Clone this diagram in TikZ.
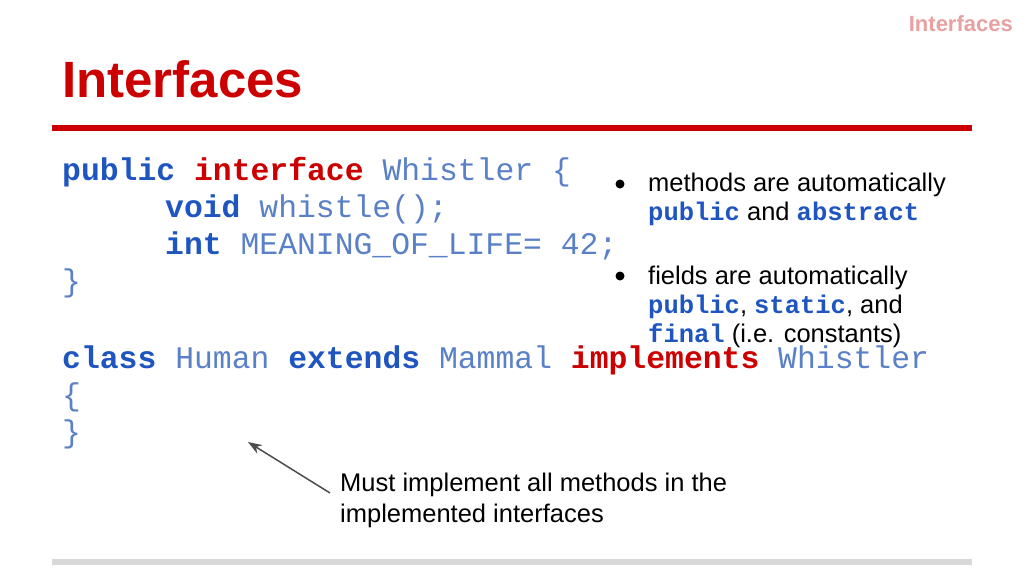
\documentclass[tikz,border=0pt]{standalone}
\usepackage{fontspec}
\usetikzlibrary{arrows.meta}
\setmainfont{Liberation Sans}
\setmonofont{Liberation Mono}
\definecolor{kw}{HTML}{1F55C0}
\definecolor{idn}{HTML}{5A80C8}
\definecolor{rd}{HTML}{CC0000}
\definecolor{hdr}{HTML}{E8A0A0}
\definecolor{gl}{HTML}{D8D8D8}
\newcommand{\K}[1]{\textbf{\color{kw}#1}}
\newcommand{\R}[1]{\textbf{\color{rd}#1}}
\newcommand{\I}[1]{{\color{idn}#1}}
\begin{document}
\begin{tikzpicture}[x=1pt,y=-1pt,
  code/.style={anchor=base west,inner sep=0pt,font=\fontsize{31.4}{31.4}\ttfamily},
  txt/.style={anchor=base west,inner sep=0pt,font=\fontsize{25.5}{25.5}\selectfont}]
\useasboundingbox (0,0) rectangle (1024,576);
\fill[white] (0,0) rectangle (1024,576);
\node[anchor=base east,inner sep=0pt,font=\fontsize{22}{22}\bfseries\selectfont,text=hdr] (hd) at (1013,31) {Interfaces};
\node[anchor=base west,inner sep=0pt,font=\fontsize{51}{51}\bfseries\selectfont,text=rd] (ti) at (62,97) {Interfaces};
\draw[rd,line width=6] (52,128) -- (972,128);
\draw[gl,line width=6] (52,562) -- (972,562);
\node[code] (c1) at (62,180) {\K{public} \R{interface} \I{Whistler \{}};
\node[code] (c2) at (165,217) {\K{void} \I{whistle();}};
\node[code] (c3) at (165,254) {\K{int} \I{MEANING\_OF\_LIFE= 42;}};
\node[code] (c4) at (62,291) {\I{\}}};
\node[code] (c5) at (62,368) {\K{class} \I{Human} \K{extends} \I{Mammal} \R{implements} \I{Whistler}};
\node[code] (c6) at (62,405) {\I{\{}};
\node[code] (c7) at (62,442) {\I{\}}};
\fill (620,184) circle (4.5);
\fill (620,276) circle (4.5);
\node[txt] (b1) at (648,191) {methods are automatically};
\node[txt] (b2) at (648,220) {{\ttfamily\K{public}} and {\ttfamily\K{abstract}}};
\node[txt] (b3) at (648,284) {fields are automatically};
\node[txt] (b4) at (648,313) {{\ttfamily\K{public}}, {\ttfamily\K{static}}, and};
\node[txt] (b5) at (648,342) {{\ttfamily\K{final}} (i.e. constants)};
\node[txt] (m1) at (340,491) {Must implement all methods in the};
\node[txt] (m2) at (340,522) {implemented interfaces};
\coordinate (a0) at (330,493);
\coordinate (a1) at (248,442);
\draw[black!70,line width=1.5,-{Stealth[length=14pt,width=10pt]}] (a0) -- (a1);
\end{tikzpicture}
\end{document}
